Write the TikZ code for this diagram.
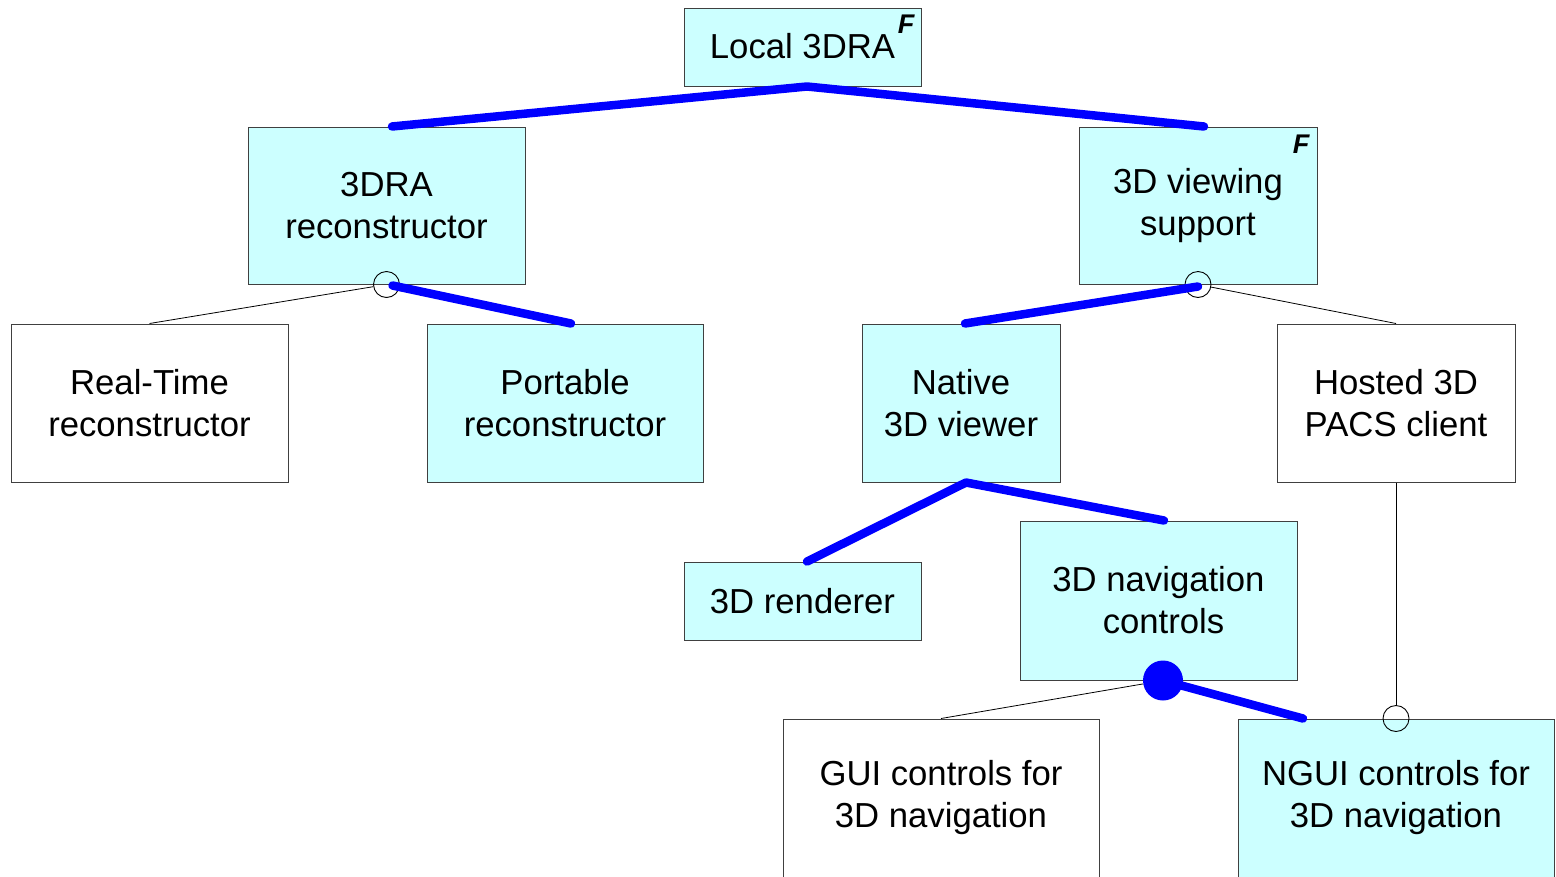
\documentclass[tikz,border=0pt]{standalone}
\usepackage{fontspec}
\setmainfont{Liberation Sans}
\usetikzlibrary{calc}
\definecolor{featfill}{HTML}{CCFFFF}
\definecolor{edgegray}{HTML}{404040}
\definecolor{selblue}{HTML}{0000FF}
\tikzset{
  feature/.style={draw=edgegray, line width=1pt, rectangle, inner sep=0pt,
    align=center, font=\fontsize{34.7}{42}\selectfont},
  chosen/.style={feature, fill=featfill},
  open/.style={feature, fill=white},
  fmark/.style={inner sep=0pt, font=\fontsize{27}{27}\selectfont\bfseries\itshape},
  selline/.style={draw=selblue, line width=8.5pt, line cap=round, line join=round},
  thinline/.style={draw=black, line width=0.8pt},
  optcircle/.style={circle, draw=black, line width=0.9pt, minimum size=26pt, inner sep=0pt},
  mandcircle/.style={circle, fill=selblue, minimum size=40pt, inner sep=0pt},
  lift/.style={text depth=0pt, yshift=#1},
}
\begin{document}
\begin{tikzpicture}[x=1pt, y=-1pt]
\clip (0,0) rectangle (1556,876);
\fill[white] (0,0) rectangle (1556,876);

% feature boxes
\node[chosen, minimum width=237pt, minimum height=78pt] (root) at (802.5,47) {\raisebox{2pt}{Local 3DRA}};
\node[fmark] (rootF) at (906,24) {F};
\node[chosen, minimum width=277pt, minimum height=157pt] (recon) at (386.5,205.5) {\raisebox{1pt}{3DRA}\\\raisebox{1pt}{reconstructor}};
\node[chosen, minimum width=238pt, minimum height=157pt] (view) at (1198,205.5) {\raisebox{-2pt}{3D viewing}\\\raisebox{-2pt}{support}};
\node[fmark] (viewF) at (1301,144) {F};
\node[open, minimum width=277pt, minimum height=158pt] (rt) at (149.5,403) {\raisebox{1pt}{Real-Time}\\\raisebox{1pt}{reconstructor}};
\node[chosen, minimum width=276pt, minimum height=158pt] (port) at (565,403) {\raisebox{1pt}{Portable}\\\raisebox{1pt}{reconstructor}};
\node[chosen, minimum width=198pt, minimum height=158pt] (native) at (961,403) {\raisebox{1pt}{Native}\\\raisebox{1pt}{3D viewer}};
\node[open, minimum width=238pt, minimum height=158pt] (hosted) at (1396,403) {\raisebox{1pt}{Hosted 3D}\\\raisebox{1pt}{PACS client}};
\node[chosen, minimum width=237pt, minimum height=78pt] (rend) at (802.5,601) {\raisebox{1pt}{3D renderer}};
\node[chosen, minimum width=277pt, minimum height=159pt] (nav) at (1158.5,600.5) {3D navigation\\\hspace*{10pt}controls};
\node[open, minimum width=316pt, minimum height=158pt] (gui) at (941,798) {\raisebox{-3pt}{GUI controls for}\\\raisebox{-3pt}{3D navigation}};
\node[chosen, minimum width=316pt, minimum height=158pt] (ngui) at (1396,798) {\raisebox{-3pt}{NGUI controls for}\\\raisebox{-3pt}{3D navigation}};

% group markers
\coordinate (rootApex) at ($(root.south)+(4.5,0)$);
\coordinate (nativeApex) at ($(native.south)+(5,0)$);
\node[optcircle] (reconAlt) at (recon.south) {};
\node[optcircle] (viewAlt) at (view.south) {};
\node[optcircle] (nguiOpt) at (ngui.north) {};

% connectors
\draw[selline] ($(recon.north)+(5.5,0)$) -- (rootApex) -- ($(view.north)+(6,0)$);
\draw[thinline] (rt.north) -- (reconAlt);
\draw[selline] ($(reconAlt.center)+(6,1)$) -- ($(port.north)+(6,0)$);
\draw[thinline] (hosted.north) -- (viewAlt);
\draw[selline] ($(viewAlt.center)+(0,2)$) -- ($(native.north)+(4,0)$);
\draw[selline] ($(rend.north)+(4.5,0)$) -- (nativeApex) -- ($(nav.north)+(5.5,0)$);
\draw[thinline] (hosted.south) -- (nguiOpt);
\node[mandcircle] (navAnd) at ($(nav.south)+(4.5,0)$) {};
\draw[thinline] (gui.north) -- (navAnd);
\draw[selline] (navAnd.center) -- ($(ngui.north)+(-93,0)$);
\end{tikzpicture}
\end{document}
